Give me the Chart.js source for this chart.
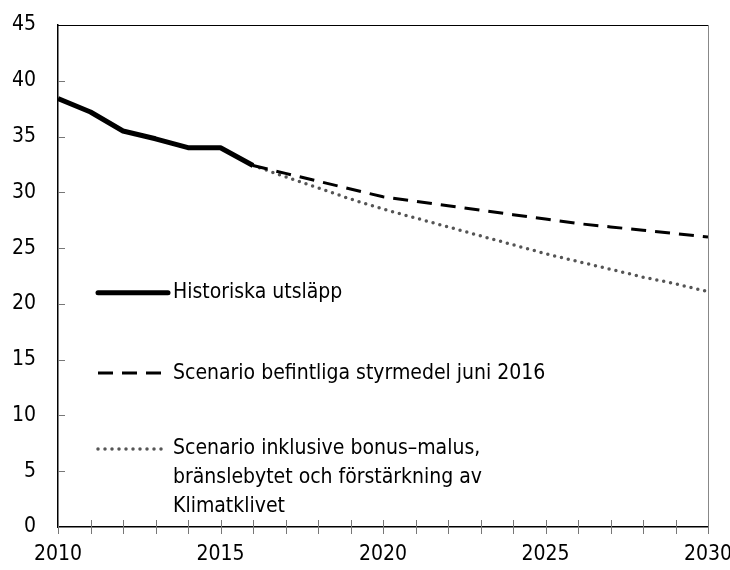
<!DOCTYPE html>
<html>
<head>
<meta charset="utf-8">
<script src="https://cdn.jsdelivr.net/npm/chart.js@4"></script>
<style>
  html, body { margin: 0; padding: 0; background: #fff; }
  #wrap { width: 730px; height: 570px; }
</style>
</head>
<body>
<div id="wrap"><canvas id="chart" width="730" height="570"></canvas></div>
<script>
// data
const historyYears = [2010, 2011, 2012, 2013, 2014, 2015, 2016];
const historyValues = [38.4, 37.2, 35.5, 34.8, 34.0, 34.0, 32.4];

const scenarioYears = [2016, 2017, 2018, 2019, 2020, 2021, 2022, 2023, 2024, 2025, 2026, 2027, 2028, 2029, 2030];
const currentPolicyValues = [32.4, 31.7, 31.0, 30.3, 29.6, 29.2, 28.8, 28.4, 28.0, 27.6, 27.2, 26.9, 26.6, 26.3, 26.0];
const bonusMalusValues = [32.4, 31.4, 30.4, 29.4, 28.5, 27.7, 26.9, 26.1, 25.3, 24.5, 23.8, 23.1, 22.4, 21.8, 21.1];

const legendLabels = [
  ['Historiska utsläpp'],
  ['Scenario befintliga styrmedel juni 2016'],
  ['Scenario inklusive bonus–malus,', 'bränslebytet och förstärkning av', 'Klimatklivet']
];
// y value where each legend entry sits
const legendAt = [21, 13.8, 7];

const FONT = "'Liberation Sans Narrow', 'DejaVu Sans Condensed', sans-serif";

function toPoints(xs, ys) {
  return xs.map((x, i) => ({ x: x, y: ys[i] }));
}

const lineStyles = [
  { color: '#000', width: 5, dash: [], cap: 'round' },
  { color: '#000', width: 3, dash: [15, 9], cap: 'butt' },
  { color: '#555', width: 3.5, dash: [0, 7], cap: 'round' }
];

// frame + tick marks + legend inside the plot
const extras = {
  id: 'extras',
  afterDraw(chart) {
    const ctx = chart.ctx;
    const a = chart.chartArea;
    const xs = chart.scales.x, ys = chart.scales.y;
    ctx.save();

    // top and right frame
    ctx.lineWidth = 1;
    ctx.strokeStyle = '#000';
    ctx.beginPath();
    ctx.moveTo(a.left, a.top + 0.5);
    ctx.lineTo(a.right, a.top + 0.5);
    ctx.stroke();
    ctx.strokeStyle = '#888';
    ctx.beginPath();
    ctx.moveTo(a.right + 0.5, a.top);
    ctx.lineTo(a.right + 0.5, a.bottom);
    ctx.stroke();

    // y ticks pointing inward
    ctx.strokeStyle = '#777';
    for (let v = 5; v < 45; v += 5) {
      const py = Math.round(ys.getPixelForValue(v)) + 0.5;
      ctx.beginPath();
      ctx.moveTo(a.left, py);
      ctx.lineTo(a.left + 7, py);
      ctx.stroke();
    }
    // x ticks crossing the axis, every year
    for (let yr = 2010; yr <= 2030; yr++) {
      const px = Math.round(xs.getPixelForValue(yr)) + 0.5;
      ctx.beginPath();
      ctx.moveTo(px, a.bottom - 7);
      ctx.lineTo(px, a.bottom + 7);
      ctx.stroke();
    }

    // legend
    const lx = 98;
    const lineLen = 70;
    ctx.font = '21px ' + FONT;
    ctx.fillStyle = '#000';
    ctx.textBaseline = 'middle';
    legendLabels.forEach((lines, i) => {
      const st = lineStyles[i];
      const py = ys.getPixelForValue(legendAt[i]);
      ctx.strokeStyle = st.color;
      ctx.lineWidth = st.width;
      ctx.lineCap = st.cap;
      ctx.setLineDash(st.dash);
      ctx.beginPath();
      ctx.moveTo(lx, py);
      ctx.lineTo(lx + lineLen, py);
      ctx.stroke();
      ctx.setLineDash([]);
      lines.forEach((t, j) => {
        ctx.fillText(t, lx + lineLen + 5, py + j * 29);
      });
    });
    ctx.restore();
  }
};

new Chart(document.getElementById('chart'), {
  type: 'line',
  data: {
    datasets: [
      {
        label: legendLabels[0][0],
        data: toPoints(historyYears, historyValues),
        borderColor: lineStyles[0].color,
        borderWidth: lineStyles[0].width,
        borderJoinStyle: 'round',
        pointRadius: 0,
        tension: 0
      },
      {
        label: legendLabels[1][0],
        data: toPoints(scenarioYears, currentPolicyValues),
        borderColor: lineStyles[1].color,
        borderWidth: lineStyles[1].width,
        borderDash: lineStyles[1].dash,
        pointRadius: 0,
        tension: 0
      },
      {
        label: legendLabels[2].join(' '),
        data: toPoints(scenarioYears, bonusMalusValues),
        borderColor: lineStyles[2].color,
        borderWidth: lineStyles[2].width,
        borderDash: lineStyles[2].dash,
        borderCapStyle: 'round',
        pointRadius: 0,
        tension: 0
      }
    ]
  },
  options: {
    responsive: false,
    animation: false,
    layout: { padding: { top: 25, right: 22, left: 0, bottom: 0 } },
    plugins: { legend: { display: false }, tooltip: { enabled: false } },
    scales: {
      x: {
        type: 'linear',
        min: 2010,
        max: 2030,
        afterFit(s) { s.height = 43; s.paddingLeft = 0; s.paddingRight = 0; },
        border: { color: '#000', width: 1.5 },
        grid: { display: false, drawTicks: false },
        ticks: {
          stepSize: 5,
          padding: 15,
          color: '#000',
          maxRotation: 0,
          font: { family: FONT, size: 21 },
          callback: v => String(v)
        }
      },
      y: {
        min: 0,
        max: 45,
        afterFit(s) { s.width = 58; s.paddingTop = 0; s.paddingBottom = 0; },
        border: { color: '#000', width: 1.5 },
        grid: { display: false, drawTicks: false },
        ticks: {
          stepSize: 5,
          padding: 22,
          color: '#000',
          font: { family: FONT, size: 21 }
        }
      }
    }
  },
  plugins: [extras]
});
</script>
</body>
</html>
